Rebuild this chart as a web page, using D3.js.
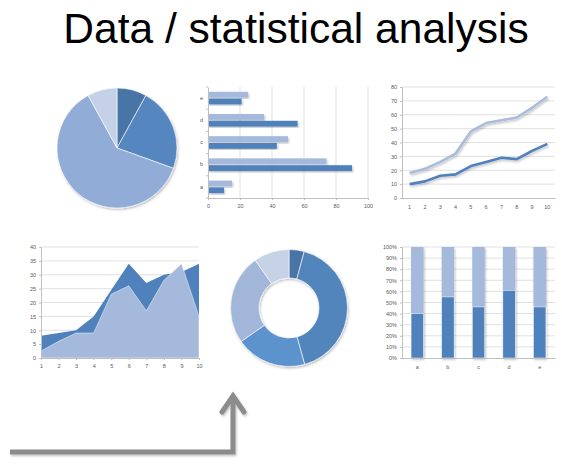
<!DOCTYPE html>
<html>
<head>
<meta charset="utf-8">
<script src="https://cdn.jsdelivr.net/npm/d3@7"></script>
<style>
body { margin: 0; background: #fff; }
svg { display: block; }
.tick text { font-family: "Liberation Sans", Arial, sans-serif; font-size: 5.5px; fill: #595959; }
</style>
</head>
<body>
<div id="vis"></div>
<script>
var w = 562;
var h = 469;

// data
var pieValues = [8, 22.5, 61.5, 8];
var pieColors = ["#4a75a6", "#5586bf", "#91acd6", "#c4d1e6"];

var barCats = ["a", "b", "c", "d", "e"];
var barLight = [15, 74, 50, 35, 25];
var barDark = [10, 90, 43, 56, 21];
var barTicks = [0, 20, 40, 60, 80, 100];

var lineCats = [1, 2, 3, 4, 5, 6, 7, 8, 9, 10];
var lineLight = [18, 21, 26, 32, 48, 54, 56, 58, 65, 73];
var lineDark = [10, 12, 16, 17, 23, 26, 29, 28, 34, 39];
var lineTicks = [0, 10, 20, 30, 40, 50, 60, 70, 80];

var areaCats = [1, 2, 3, 4, 5, 6, 7, 8, 9, 10];
var areaDark = [8, 9, 10, 15, 24.5, 34, 27, 30, 31, 34];
var areaLight = [2.5, 6, 9, 9, 23, 26, 17, 28, 34, 15];
var areaTicks = [0, 5, 10, 15, 20, 25, 30, 35, 40];

var donutValues = [4.2, 41.5, 19.6, 24.9, 9.8];
var donutColors = ["#4a75a6", "#5285bd", "#5d93cd", "#a2b6da", "#c6d2e6"];

var colCats = ["a", "b", "c", "d", "e"];
var colDark = [40, 55, 46, 61, 46];
var colTicks = [0, 10, 20, 30, 40, 50, 60, 70, 80, 90, 100];

var dark = "#4f81bd";
var light = "#a5b9dc";
var grid = "#d9d9d9";
var axisCol = "#bfbfbf";

var svg = d3.select("#vis")
    .append("svg")
    .attr("width", w)
    .attr("height", h);

var defs = svg.append("defs");
var f = defs.append("filter").attr("id", "shadow")
    .attr("x", "-20%").attr("y", "-20%").attr("width", "140%").attr("height", "140%");
f.append("feDropShadow").attr("dx", 1).attr("dy", 1.5).attr("stdDeviation", 1.2)
    .attr("flood-color", "#000").attr("flood-opacity", 0.25);

// title
svg.append("text")
    .text("Data / statistical analysis")
    .attr("x", 296)
    .attr("y", 43)
    .attr("text-anchor", "middle")
    .style("font-family", "'Liberation Sans', Arial, sans-serif")
    .style("font-size", "42.5px")
    .attr("fill", "#000");

function styleAxis(g) {
    g.select(".domain").attr("stroke", axisCol);
    g.selectAll(".tick line").attr("stroke", axisCol);
}

//pie
var pie = d3.pie().sort(null).value(function(d) { return d; });
var arcPie = d3.arc().innerRadius(0).outerRadius(60);
svg.append("g")
    .attr("transform", "translate(117,148)")
    .attr("filter", "url(#shadow)")
    .selectAll("path")
    .data(pie(pieValues))
    .enter()
    .append("path")
    .attr("d", arcPie)
    .attr("fill", function(d, i) { return pieColors[i]; })
    .attr("stroke", "#fff")
    .attr("stroke-width", 0.6);

//horizontal bars
var bx = d3.scaleLinear().domain([0, 100]).range([208, 368]);
var by = d3.scaleBand().domain(barCats.slice().reverse()).range([87, 198]);
var gb = svg.append("g");
gb.selectAll("line.grid")
    .data(barTicks.slice(1))
    .enter()
    .append("line")
    .attr("x1", function(d) { return bx(d); })
    .attr("x2", function(d) { return bx(d); })
    .attr("y1", 87)
    .attr("y2", 198)
    .attr("stroke", grid)
    .attr("stroke-width", 0.8);
var bh = 5.8;
gb.selectAll("rect.l")
    .data(barCats)
    .enter()
    .append("rect")
    .attr("x", bx(0))
    .attr("y", function(d) { return by(d) + by.bandwidth() / 2 - bh - 0.5; })
    .attr("width", function(d, i) { return bx(barLight[i]) - bx(0); })
    .attr("height", bh)
    .attr("fill", light)
    .attr("filter", "url(#shadow)");
gb.selectAll("rect.d")
    .data(barCats)
    .enter()
    .append("rect")
    .attr("x", bx(0))
    .attr("y", function(d) { return by(d) + by.bandwidth() / 2 + 0.5; })
    .attr("width", function(d, i) { return bx(barDark[i]) - bx(0); })
    .attr("height", bh)
    .attr("fill", dark)
    .attr("filter", "url(#shadow)");
gb.append("g")
    .attr("transform", "translate(0,198)")
    .call(d3.axisBottom(bx).tickValues(barTicks).tickSize(2).tickPadding(4))
    .call(styleAxis);
gb.append("g")
    .attr("transform", "translate(208,0)")
    .call(d3.axisLeft(by).tickSize(0).tickPadding(5))
    .call(styleAxis);
gb.selectAll("line.sep")
    .data(d3.range(6))
    .enter()
    .append("line")
    .attr("x1", 206).attr("x2", 208)
    .attr("y1", function(d) { return 87 + d * by.step(); })
    .attr("y2", function(d) { return 87 + d * by.step(); })
    .attr("stroke", axisCol);

//line chart
var lx = d3.scaleBand().domain(lineCats).range([402, 555]);
var ly = d3.scaleLinear().domain([0, 80]).range([198, 87]);
var gl = svg.append("g");
gl.selectAll("line.grid")
    .data(lineTicks.slice(1))
    .enter()
    .append("line")
    .attr("x1", 402).attr("x2", 555)
    .attr("y1", function(d) { return ly(d); })
    .attr("y2", function(d) { return ly(d); })
    .attr("stroke", grid)
    .attr("stroke-width", 0.8);
gl.append("g")
    .attr("transform", "translate(402,0)")
    .call(d3.axisLeft(ly).tickValues(lineTicks).tickSize(2).tickPadding(3))
    .call(styleAxis);
gl.append("g")
    .attr("transform", "translate(0,198)")
    .call(d3.axisBottom(lx).tickSize(0).tickPadding(7))
    .call(styleAxis);
var line = d3.line()
    .x(function(d, i) { return lx(lineCats[i]) + lx.bandwidth() / 2; })
    .y(function(d) { return ly(d); });
gl.append("path")
    .attr("d", line(lineLight))
    .attr("fill", "none")
    .attr("stroke", "#a8bddb")
    .attr("stroke-width", 2.6)
    .attr("stroke-linejoin", "round")
    .attr("filter", "url(#shadow)");
gl.append("path")
    .attr("d", line(lineDark))
    .attr("fill", "none")
    .attr("stroke", dark)
    .attr("stroke-width", 2.6)
    .attr("stroke-linejoin", "round")
    .attr("filter", "url(#shadow)");

//area chart
var ax = d3.scaleLinear().domain([1, 10]).range([41, 199]);
var ay = d3.scaleLinear().domain([0, 40]).range([358, 247]);
var ga = svg.append("g");
ga.selectAll("line.grid")
    .data(areaTicks.slice(1))
    .enter()
    .append("line")
    .attr("x1", 41).attr("x2", 199)
    .attr("y1", function(d) { return ay(d); })
    .attr("y2", function(d) { return ay(d); })
    .attr("stroke", grid)
    .attr("stroke-width", 0.8);
var area = d3.area()
    .x(function(d, i) { return ax(areaCats[i]); })
    .y0(ay(0))
    .y1(function(d) { return ay(d); });
ga.append("path")
    .attr("d", area(areaDark))
    .attr("fill", dark);
ga.append("path")
    .attr("d", area(areaLight))
    .attr("fill", light)
    .attr("stroke", "#fff")
    .attr("stroke-width", 0.6)
    .attr("stroke-opacity", 0.8);
ga.append("g")
    .attr("transform", "translate(41,0)")
    .call(d3.axisLeft(ay).tickValues(areaTicks).tickSize(2).tickPadding(3))
    .call(styleAxis);
ga.append("g")
    .attr("transform", "translate(0,358)")
    .call(d3.axisBottom(ax).tickValues(areaCats).tickFormat(d3.format("d")).tickSize(2).tickPadding(4))
    .call(styleAxis);

//donut
var arcDonut = d3.arc().innerRadius(30).outerRadius(58.5);
svg.append("g")
    .attr("transform", "translate(289,308)")
    .attr("filter", "url(#shadow)")
    .selectAll("path")
    .data(pie(donutValues))
    .enter()
    .append("path")
    .attr("d", arcDonut)
    .attr("fill", function(d, i) { return donutColors[i]; })
    .attr("stroke", "#fff")
    .attr("stroke-width", 0.6);

//100% stacked columns
var cx = d3.scaleBand().domain(colCats).range([402, 555]);
var cy = d3.scaleLinear().domain([0, 100]).range([358, 247]);
var gc = svg.append("g");
gc.selectAll("line.grid")
    .data(colTicks.slice(1))
    .enter()
    .append("line")
    .attr("x1", 402).attr("x2", 555)
    .attr("y1", function(d) { return cy(d); })
    .attr("y2", function(d) { return cy(d); })
    .attr("stroke", grid)
    .attr("stroke-width", 0.8);
var cw = 12.5;
gc.selectAll("rect.l")
    .data(colCats)
    .enter()
    .append("rect")
    .attr("x", function(d) { return cx(d) + cx.bandwidth() / 2 - cw / 2; })
    .attr("y", cy(100))
    .attr("width", cw)
    .attr("height", function(d, i) { return cy(colDark[i]) - cy(100); })
    .attr("fill", light)
    .attr("filter", "url(#shadow)");
gc.selectAll("rect.d")
    .data(colCats)
    .enter()
    .append("rect")
    .attr("x", function(d) { return cx(d) + cx.bandwidth() / 2 - cw / 2; })
    .attr("y", function(d, i) { return cy(colDark[i]); })
    .attr("width", cw)
    .attr("height", function(d, i) { return cy(0) - cy(colDark[i]); })
    .attr("fill", dark)
    .attr("stroke", "#fff")
    .attr("stroke-width", 0.5)
    .attr("filter", "url(#shadow)");
gc.append("g")
    .attr("transform", "translate(402,0)")
    .call(d3.axisLeft(cy).tickValues(colTicks).tickFormat(function(d) { return d + "%"; }).tickSize(2).tickPadding(3))
    .call(styleAxis);
gc.append("g")
    .attr("transform", "translate(0,358)")
    .call(d3.axisBottom(cx).tickSize(0).tickPadding(7))
    .call(styleAxis);

//arrow
var ga2 = svg.append("g")
    .attr("fill", "none")
    .attr("stroke", "#8c8c8c")
    .attr("stroke-width", 5)
    .attr("filter", "url(#shadow)");
ga2.append("path")
    .attr("d", "M10,452 L233,452 L233,396")
    .attr("stroke-linejoin", "miter");
ga2.append("path")
    .attr("d", "M222,412 L233,396 L244,412")
    .attr("stroke-linecap", "round")
    .attr("stroke-linejoin", "miter");
</script>
</body>
</html>
